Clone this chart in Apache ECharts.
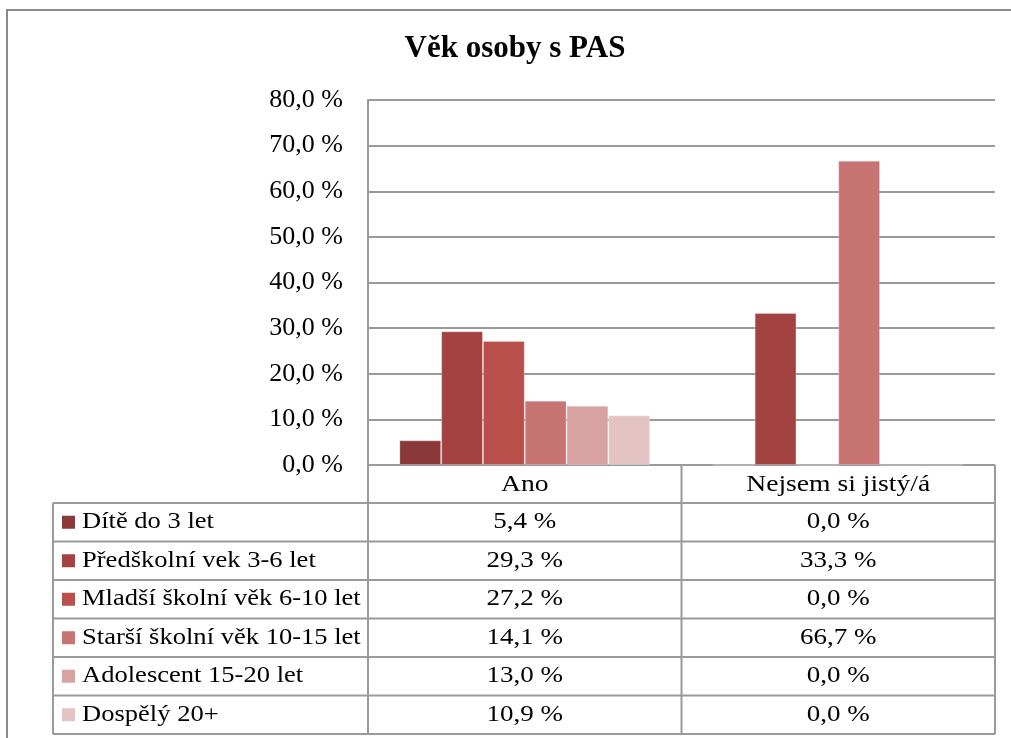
<!DOCTYPE html>
<html>
<head>
<meta charset="utf-8">
<script src="https://cdn.jsdelivr.net/npm/echarts@6/dist/echarts.min.js"></script>
<style>html,body{margin:0;padding:0;background:#fff}#c{width:1011px;height:738px}</style>
</head>
<body>
<div id="c"></div>
<script>
const title = 'Věk osoby s PAS';
const categories = ['Ano', 'Nejsem si jistý/á'];
const seriesNames = ['Dítě do 3 let', 'Předškolní vek 3-6 let', 'Mladší školní věk 6-10 let', 'Starší školní věk 10-15 let', 'Adolescent 15-20 let', 'Dospělý 20+'];
const diteDo3 = [5.4, 0.0];
const predskolni = [29.3, 33.3];
const mladsiSkolni = [27.2, 0.0];
const starsiSkolni = [14.1, 66.7];
const adolescent = [13.0, 0.0];
const dospely = [10.9, 0.0];
const seriesValues = [diteDo3, predskolni, mladsiSkolni, starsiSkolni, adolescent, dospely];
const yTicks = {min: 0, max: 80, interval: 10};

const colors = ['#8b3938', '#a34341', '#b84f4b', '#c87472', '#d8a2a1', '#e3c3c4'];
const FONT = "'Liberation Serif', serif";
const LINE = '#9a9a9a';
const SX = 1.2; // horizontal stretch of table text in original

const L = 368, R = 995, T = 100, B = 465;
const tableLeft = 53, headerBottom = 503, rowH = 38.5;
const fmt = v => v.toFixed(1).replace('.', ',') + ' %';

const chart = echarts.init(document.getElementById('c'), null, {renderer: 'canvas'});

const graphics = [];
graphics.push({type: 'rect', shape: {x: 7, y: 10, width: 1030, height: 760}, style: {fill: 'none', stroke: '#8a8a8a', lineWidth: 2}, silent: true});
function txt(x, y, s, size, align, bold, sx) {
  graphics.push({type: 'text', x, y, scaleX: sx,
    style: {text: s, fontFamily: FONT, fontSize: size, fontWeight: bold ? 'bold' : 'normal', fill: '#000', align, verticalAlign: 'middle'}});
}
txt(515, 49, title, 31, 'center', true, 1);

const colW = (R - L) / categories.length;
const tableBottom = headerBottom + rowH * seriesNames.length;
function hline(x1, x2, y) { graphics.push({type: 'line', shape: {x1, y1: y, x2, y2: y}, style: {stroke: LINE, lineWidth: 2}, silent: true}); }
function vline(x, y1, y2) { graphics.push({type: 'line', shape: {x1: x, y1, x2: x, y2}, style: {stroke: LINE, lineWidth: 2}, silent: true}); }
vline(L, B, tableBottom);
for (let c = 1; c <= categories.length; c++) vline(L + colW * c, B, tableBottom);
vline(tableLeft, headerBottom, tableBottom);
hline(tableLeft, R, headerBottom);
categories.forEach((cat, c) => {
  txt(L + colW * (c + 0.5), (B + headerBottom) / 2 + 1, cat, 23, 'center', false, SX);
});
seriesNames.forEach((name, i) => {
  const top = headerBottom + rowH * i;
  const cy = top + rowH / 2;
  hline(tableLeft, R, top + rowH);
  graphics.push({type: 'rect', shape: {x: 62, y: cy - 6.5, width: 13, height: 13}, style: {fill: colors[i]}, silent: true});
  txt(82, cy, name, 22.5, 'left', false, 1.18);
  categories.forEach((cat, c) => {
    txt(L + colW * (c + 0.5), cy, fmt(seriesValues[i][c]), 22.5, 'center', false, SX);
  });
});

chart.setOption({
  animation: false,
  backgroundColor: '#fff',
  grid: {left: L, right: 1011 - R, top: T, bottom: 738 - B, containLabel: false},
  xAxis: {type: 'category', data: categories, axisLine: {show: false}, axisTick: {show: false}, axisLabel: {show: false}, splitLine: {show: false}},
  yAxis: {type: 'value', min: yTicks.min, max: yTicks.max, interval: yTicks.interval,
    axisLine: {show: true, lineStyle: {color: LINE, width: 2}},
    axisTick: {show: false},
    splitLine: {show: true, lineStyle: {color: LINE, width: 2}},
    axisLabel: {margin: 25, color: '#000', fontFamily: FONT, fontSize: 26, formatter: v => fmt(v)}},
  series: seriesNames.map((name, i) => ({
    name, type: 'bar', data: seriesValues[i], barGap: '0%', barCategoryGap: '20%',
    itemStyle: {color: colors[i], borderColor: 'rgba(255,255,255,0.25)', borderWidth: 1}
  })),
  graphic: graphics
});
</script>
</body>
</html>
